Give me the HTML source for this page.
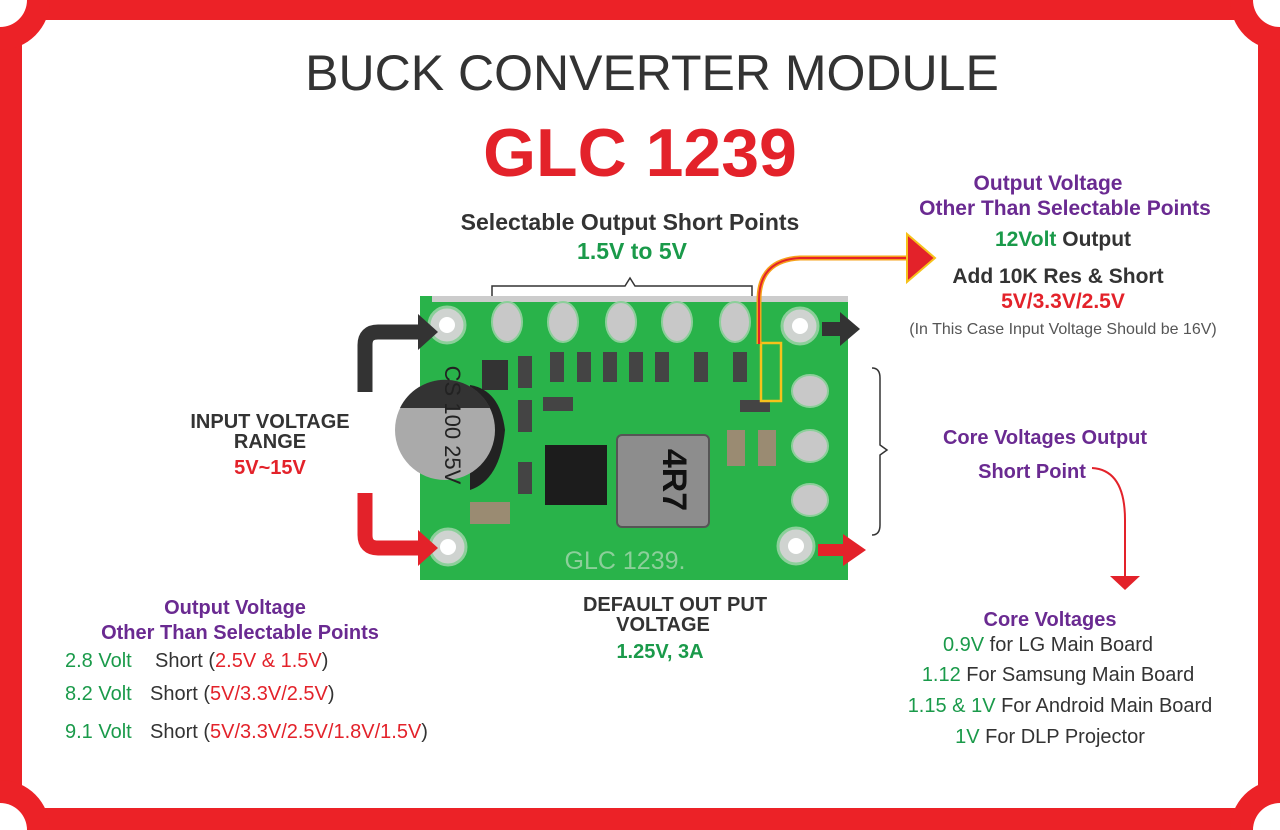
<!DOCTYPE html>
<html><head><meta charset="utf-8"><style>
html,body{margin:0;padding:0;background:#fff;width:1280px;height:830px;overflow:hidden;}
#w{position:relative;width:1280px;height:830px;overflow:hidden;}
svg{display:block;position:absolute;left:0;top:0;overflow:hidden;}
text{font-family:"Liberation Sans",sans-serif;font-weight:bold;}
</style></head><body><div id="w">
<svg width="1280" height="830" viewBox="0 0 1280 830" xmlns="http://www.w3.org/2000/svg">
<rect x="0" y="0" width="1280" height="830" fill="#ec2227"/>
<rect x="22" y="20" width="1236" height="788" fill="#fff"/>
<g fill="#ec2227"><circle cx="0" cy="0" r="50"/><circle cx="1280" cy="0" r="50"/><circle cx="0" cy="830" r="50"/><circle cx="1280" cy="830" r="50"/></g>
<g fill="#fff"><circle cx="0" cy="0" r="27"/><circle cx="1280" cy="0" r="27"/><circle cx="0" cy="830" r="27"/><circle cx="1280" cy="830" r="27"/></g>
<text x="652" y="90" text-anchor="middle" font-size="50" fill="#333" style="font-weight:normal">BUCK CONVERTER MODULE</text>
<text x="640" y="176" text-anchor="middle" font-size="68" fill="#e3222a">GLC 1239</text>
<text x="630" y="230" text-anchor="middle" font-size="23" fill="#333">Selectable Output Short Points</text>
<text x="632" y="259" text-anchor="middle" font-size="23" fill="#1a9a4a">1.5V to 5V</text>
<path d="M492 300 V286 H625 L630 278 L635 286 H752 V300" fill="none" stroke="#333" stroke-width="1.5"/>
<rect x="420" y="296" width="428" height="284" fill="#29b34a"/>
<rect x="432" y="296" width="416" height="6" fill="#ccc"/>
<g fill="#cfd3d0" stroke="#8ccf9a" stroke-width="3">
<circle cx="447" cy="325" r="18"/><circle cx="800" cy="326" r="18"/>
<circle cx="448" cy="547" r="18"/><circle cx="796" cy="546" r="18"/>
</g>
<g fill="#fff"><circle cx="447" cy="325" r="8"/><circle cx="800" cy="326" r="8"/><circle cx="448" cy="547" r="8"/><circle cx="796" cy="546" r="8"/></g>
<g fill="#c8c8c8" stroke="#8ccf9a" stroke-width="2">
<ellipse cx="507" cy="322" rx="15" ry="20"/><ellipse cx="563" cy="322" rx="15" ry="20"/><ellipse cx="621" cy="322" rx="15" ry="20"/><ellipse cx="677" cy="322" rx="15" ry="20"/><ellipse cx="735" cy="322" rx="15" ry="20"/>
<ellipse cx="810" cy="391" rx="18" ry="16"/><ellipse cx="810" cy="446" rx="18" ry="16"/><ellipse cx="810" cy="500" rx="18" ry="16"/>
</g>
<g fill="#444"><rect x="550" y="352" width="14" height="30"/><rect x="577" y="352" width="14" height="30"/><rect x="603" y="352" width="14" height="30"/><rect x="629" y="352" width="14" height="30"/><rect x="655" y="352" width="14" height="30"/><rect x="694" y="352" width="14" height="30"/><rect x="733" y="352" width="14" height="30"/><rect x="518" y="356" width="14" height="32"/><rect x="518" y="400" width="14" height="32"/><rect x="518" y="462" width="14" height="32"/><rect x="543" y="397" width="30" height="14"/><rect x="740" y="400" width="30" height="12"/></g>
<rect x="761" y="343" width="20" height="58" fill="none" stroke="#f6c21b" stroke-width="2.5"/>
<rect x="482" y="360" width="26" height="30" fill="#333"/>
<path d="M470 385 Q500 390 505 430 Q500 480 470 490 Z" fill="#222"/>
<circle cx="445" cy="430" r="50" fill="#aaa"/>
<path d="M400 408 A50 50 0 0 1 490 408 Z" fill="#333"/>
<text x="445" y="425" text-anchor="middle" font-size="22" fill="#222" style="font-weight:normal" transform="rotate(90 445 425)">CS 100 25V</text>
<rect x="545" y="445" width="62" height="60" fill="#1c1c1c"/>
<rect x="617" y="435" width="92" height="92" rx="5" fill="#8d8d8d" stroke="#555" stroke-width="2"/>
<text x="663" y="480" text-anchor="middle" font-size="34" fill="#111" transform="rotate(90 663 480)">4R7</text>
<rect x="727" y="430" width="18" height="36" fill="#9a8b72"/><rect x="758" y="430" width="18" height="36" fill="#9a8b72"/>
<rect x="470" y="502" width="40" height="22" fill="#9a8b72"/>
<text x="625" y="569" text-anchor="middle" font-size="25" fill="#8ccf9a" style="font-weight:normal">GLC 1239.</text>
<path d="M365 392 V345 Q365 332 378 332 H420" fill="none" stroke="#333" stroke-width="15"/>
<polygon points="418,314 438,332 418,350" fill="#333"/>
<path d="M365 493 V535 Q365 548 378 548 H420" fill="none" stroke="#e3222a" stroke-width="15"/>
<polygon points="418,530 438,548 418,566" fill="#e3222a"/>
<rect x="822" y="322" width="20" height="14" fill="#333"/><polygon points="840,312 860,329 840,346" fill="#333"/>
<rect x="818" y="544" width="28" height="12" fill="#e3222a"/><polygon points="843,534 866,550 843,566" fill="#e3222a"/>
<path d="M759 344 V300 Q759 260 800 258 H910" fill="none" stroke="#f6a21b" stroke-width="5"/>
<path d="M759 344 V300 Q759 260 800 258 H910" fill="none" stroke="#e3222a" stroke-width="2"/>
<polygon points="907,234 935,258 907,282" fill="#e3222a" stroke="#f6c21b" stroke-width="2"/>
<path d="M872 368 Q880 368 880 378 V445 L887 450 L880 455 V525 Q880 535 872 535" fill="none" stroke="#333" stroke-width="1.5"/>
<path d="M1092 468 Q1125 470 1125 520 V578" fill="none" stroke="#e3222a" stroke-width="2"/>
<polygon points="1110,576 1140,576 1125,590" fill="#e3222a"/>
<text x="1048" y="190" text-anchor="middle" font-size="21" fill="#6a2a91">Output Voltage</text>
<text x="1065" y="215" text-anchor="middle" font-size="21" fill="#6a2a91">Other Than Selectable Points</text>
<text x="1063" y="246" text-anchor="middle" font-size="21"><tspan fill="#1a9a4a">12Volt</tspan><tspan fill="#333"> Output</tspan></text>
<text x="1058" y="283" text-anchor="middle" font-size="21" fill="#333">Add 10K Res &amp; Short</text>
<text x="1063" y="308" text-anchor="middle" font-size="21" fill="#e3222a">5V/3.3V/2.5V</text>
<text x="1063" y="334" text-anchor="middle" font-size="16" fill="#555" style="font-weight:normal">(In This Case Input Voltage Should be 16V)</text>
<text x="1045" y="444" text-anchor="middle" font-size="20" fill="#6a2a91">Core Voltages Output</text>
<text x="1032" y="478" text-anchor="middle" font-size="20" fill="#6a2a91">Short Point</text>
<text x="1050" y="626" text-anchor="middle" font-size="20" fill="#6a2a91">Core Voltages</text>
<text x="1048" y="651" text-anchor="middle" font-size="20" fill="#333" style="font-weight:normal"><tspan fill="#1a9a4a">0.9V</tspan> for LG Main Board</text>
<text x="1058" y="681" text-anchor="middle" font-size="20" fill="#333" style="font-weight:normal"><tspan fill="#1a9a4a">1.12</tspan> For Samsung Main Board</text>
<text x="1060" y="712" text-anchor="middle" font-size="20" fill="#333" style="font-weight:normal"><tspan fill="#1a9a4a">1.15 &amp; 1V</tspan> For Android Main Board</text>
<text x="1050" y="743" text-anchor="middle" font-size="20" fill="#333" style="font-weight:normal"><tspan fill="#1a9a4a">1V</tspan> For DLP Projector</text>
<text x="270" y="428" text-anchor="middle" font-size="20" fill="#333">INPUT VOLTAGE</text>
<text x="270" y="448" text-anchor="middle" font-size="20" fill="#333">RANGE</text>
<text x="270" y="474" text-anchor="middle" font-size="20" fill="#e3222a">5V~15V</text>
<text x="675" y="611" text-anchor="middle" font-size="20" fill="#333">DEFAULT OUT PUT</text>
<text x="663" y="631" text-anchor="middle" font-size="20" fill="#333">VOLTAGE</text>
<text x="660" y="658" text-anchor="middle" font-size="20" fill="#1a9a4a">1.25V, 3A</text>
<text x="235" y="614" text-anchor="middle" font-size="20" fill="#6a2a91">Output Voltage</text>
<text x="240" y="639" text-anchor="middle" font-size="20" fill="#6a2a91">Other Than Selectable Points</text>
<text y="667" font-size="20" fill="#333" style="font-weight:normal"><tspan x="65" fill="#1a9a4a">2.8 Volt</tspan><tspan x="155">Short (</tspan><tspan fill="#e3222a">2.5V &amp; 1.5V</tspan>)</text>
<text y="700" font-size="20" fill="#333" style="font-weight:normal"><tspan x="65" fill="#1a9a4a">8.2 Volt</tspan><tspan x="150">Short (</tspan><tspan fill="#e3222a">5V/3.3V/2.5V</tspan>)</text>
<text y="738" font-size="20" fill="#333" style="font-weight:normal"><tspan x="65" fill="#1a9a4a">9.1 Volt</tspan><tspan x="150">Short (</tspan><tspan fill="#e3222a">5V/3.3V/2.5V/1.8V/1.5V</tspan>)</text>
</svg>
</div></body></html>
